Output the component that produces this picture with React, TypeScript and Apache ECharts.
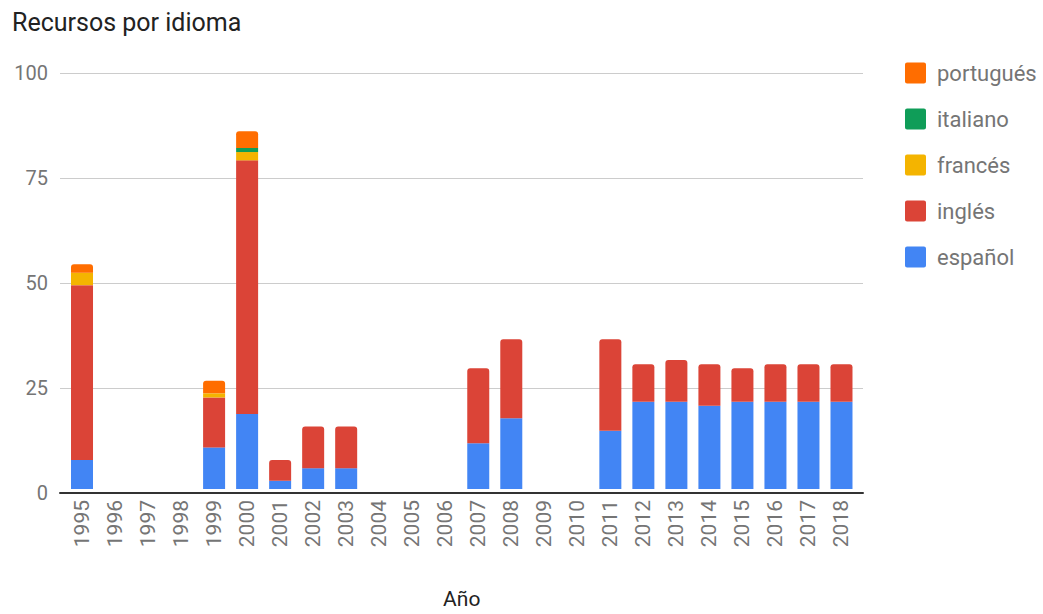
import React, { useEffect, useRef } from "react";
import * as echarts from "echarts";

const years = [
  "1995", "1996", "1997", "1998", "1999", "2000", "2001", "2002", "2003", "2004", "2005", "2006",
  "2007", "2008", "2009", "2010", "2011", "2012", "2013", "2014", "2015", "2016", "2017", "2018",
];
const espanol = [7, 0, 0, 0, 10, 18, 2, 5, 5, 0, 0, 0, 11, 17, 0, 0, 14, 21, 21, 20, 21, 21, 21, 21];
const ingles = [42, 0, 0, 0, 12, 61, 5, 10, 10, 0, 0, 0, 18, 19, 0, 0, 22, 9, 10, 10, 8, 9, 9, 9];
const frances = [3, 0, 0, 0, 1, 2, 0, 0, 0, 0, 0, 0, 0, 0, 0, 0, 0, 0, 0, 0, 0, 0, 0, 0];
const italiano = [0, 0, 0, 0, 0, 1, 0, 0, 0, 0, 0, 0, 0, 0, 0, 0, 0, 0, 0, 0, 0, 0, 0, 0];
const portugues = [2, 0, 0, 0, 3, 4, 0, 0, 0, 0, 0, 0, 0, 0, 0, 0, 0, 0, 0, 0, 0, 0, 0, 0];
const yTicks = [0, 25, 50, 75, 100];

const FONT = "Roboto, Arial, sans-serif";
const ICON =
  "path://M2,0H18A2,2 0 0 1 20,2V18A2,2 0 0 1 18,20H2A2,2 0 0 1 0,18V2A2,2 0 0 1 2,0Z";

export default function App() {
  const ref = useRef<HTMLDivElement>(null);
  useEffect(() => {
    document.body.style.margin = "0";
    const chart = echarts.init(ref.current!, null, { renderer: "svg" });
    const stack = [espanol, ingles, frances, italiano, portugues];
    const topIdx = years.map((_, i) => {
      let t = -1;
      stack.forEach((s, k) => {
        if (s[i] > 0) t = k;
      });
      return t;
    });
    const mk = (name: string, data: number[], color: string, k: number) => ({
      name,
      type: "bar",
      stack: "total",
      xAxisIndex: 0,
      yAxisIndex: 0,
      data: data.map((v, i) =>
        topIdx[i] === k ? { value: v, itemStyle: { borderRadius: [3, 3, 0, 0] } } : v
      ),
      barWidth: 22,
      itemStyle: { color },
    });
    chart.setOption({
      animation: false,
      textStyle: { fontFamily: FONT },
      title: {
        text: "Recursos por idioma",
        left: 7,
        top: 5,
        textStyle: { fontFamily: FONT, fontSize: 25, fontWeight: "normal", color: "#222222" },
      },
      legend: {
        orient: "vertical",
        left: 900,
        top: 57,
        itemWidth: 21,
        itemHeight: 21,
        itemGap: 24,
        icon: ICON,
        data: ["portugués", "italiano", "francés", "inglés", "español"],
        textStyle: { fontFamily: FONT, fontSize: 22, color: "#757575", padding: [0, 0, 0, 6] },
      },
      grid: [
        { left: 65.5, right: 185, top: 73, bottom: 121 },
        { left: 60, right: 180, top: 73, bottom: 121 },
      ],
      xAxis: [
        {
          type: "category",
          gridIndex: 0,
          data: years,
          axisLine: { show: false },
          axisTick: { show: false },
          axisLabel: { rotate: 90, margin: 11, fontSize: 21, color: "#757575", fontFamily: FONT },
          name: "Año",
          nameLocation: "middle",
          nameGap: 99,
          nameTextStyle: { fontSize: 21, color: "#222222", fontFamily: FONT },
        },
        {
          type: "value",
          gridIndex: 1,
          min: 0,
          max: 1,
          axisLine: { show: true, lineStyle: { color: "#333333", width: 2 } },
          axisTick: { show: false },
          axisLabel: { show: false },
          splitLine: { show: false },
        },
      ],
      yAxis: [
        {
          type: "value",
          gridIndex: 0,
          min: 0,
          max: 100,
          interval: 25,
          show: false,
          splitLine: { show: false },
        },
        {
          type: "value",
          gridIndex: 1,
          min: yTicks[0],
          max: yTicks[yTicks.length - 1],
          interval: 25,
          axisLine: { show: false },
          axisTick: { show: false },
          axisLabel: { margin: 12, fontSize: 20, color: "#757575", fontFamily: FONT },
          splitLine: { lineStyle: { color: "#cccccc", width: 1 } },
        },
      ],
      series: [
        mk("español", espanol, "#4285F4", 0),
        mk("inglés", ingles, "#DB4437", 1),
        mk("francés", frances, "#F4B400", 2),
        mk("italiano", italiano, "#0F9D58", 3),
        mk("portugués", portugues, "#FF6D00", 4),
      ],
    });
    return () => chart.dispose();
  }, []);
  return <div ref={ref} style={{ width: 1043, height: 614 }} />;
}
